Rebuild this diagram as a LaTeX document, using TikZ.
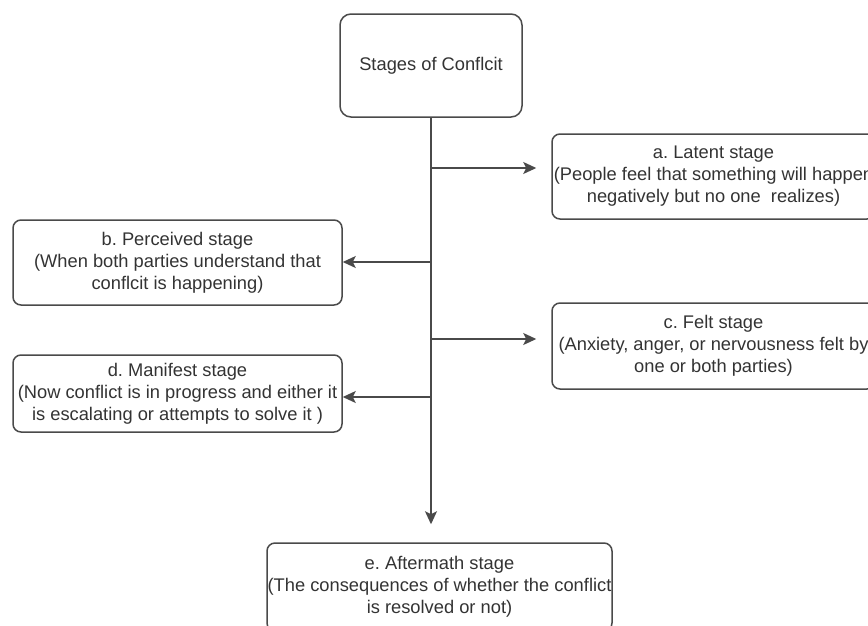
\documentclass[tikz,border=0pt]{standalone}
\usepackage{fontspec}
\setmainfont{Liberation Sans}
\usetikzlibrary{arrows.meta}
\frenchspacing
\definecolor{txt}{HTML}{333333}
\definecolor{ln}{HTML}{4A4A4A}
\tikzset{
  stagebox/.style={draw=ln, line width=1.5pt, rounded corners=8pt, rectangle, inner sep=0pt,
    align=center, text=txt, font=\fontsize{18.3}{22}\selectfont},
  arr/.style={draw=ln, line width=1.5pt, -{Stealth[length=13pt,width=12pt,inset=3pt]}},
  plain/.style={draw=ln, line width=1.5pt}
}
\begin{document}
\begin{tikzpicture}[x=1pt,y=-1pt]
\useasboundingbox (0,0) rectangle (868,625);
\node[stagebox, rounded corners=11pt, minimum width=182pt, minimum height=103pt] (top) at (431,65.5) {Stages of Conflcit};
\node[stagebox, minimum width=323pt, minimum height=85pt] (a) at (713.5,176.5) {a. Latent stage\\(People feel that something will happen\\negatively but no one\ \ realizes)};
\node[stagebox, minimum width=329pt, minimum height=85pt] (b) at (177.5,262.5) {b. Perceived stage\\(When both parties understand that\\conflcit is happening)};
\node[stagebox, minimum width=323pt, minimum height=86pt] (c) at (713.5,346) {c. Felt stage\\(Anxiety, anger, or nervousness felt by\\one or both parties)};
\node[stagebox, minimum width=329pt, minimum height=77pt] (d) at (177.5,393.5) {d. Manifest stage\\(Now conflict is in progress and either it\\is escalating or attempts to solve it )};
\node[stagebox, minimum width=345pt, minimum height=88pt] (e) at (439.5,587) {e. Aftermath stage\\(The consequences of whether the conflict\\is resolved or not)};
\coordinate (ja) at (431,168);
\coordinate (jb) at (431,262);
\coordinate (jc) at (431,339);
\coordinate (jd) at (431,397);
\draw[arr, shorten >=18pt] (top.south) -- (top.south |- e.north);
\draw[arr, shorten >=15pt] (ja) -- (ja -| a.west);
\draw[arr] (jb) -- (jb -| b.east);
\draw[arr, shorten >=15pt] (jc) -- (jc -| c.west);
\draw[arr] (jd) -- (jd -| d.east);
\end{tikzpicture}
\end{document}
